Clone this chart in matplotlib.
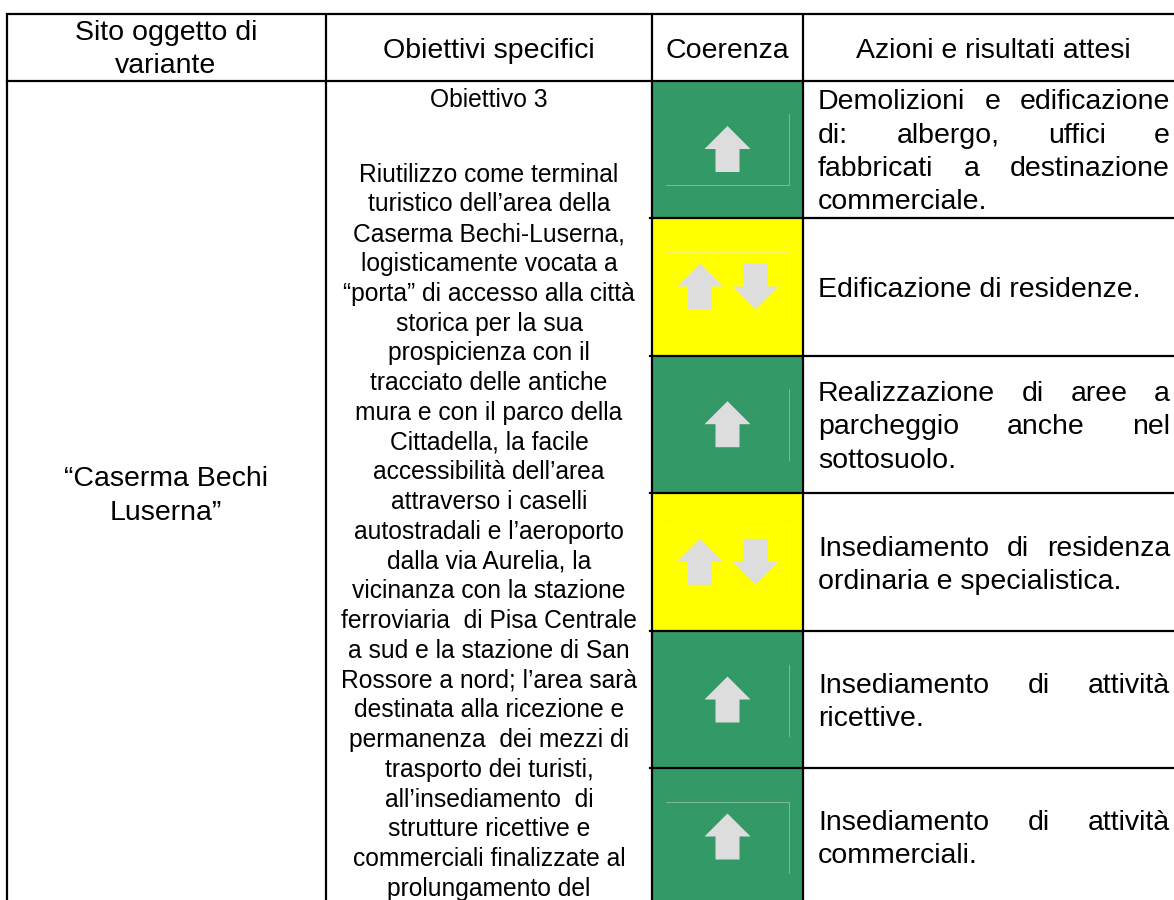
import matplotlib
matplotlib.use("Agg")
import matplotlib.pyplot as plt
from matplotlib.patches import Polygon, Rectangle

plt.rcParams["font.family"] = ["Liberation Sans", "DejaVu Sans"]

GREEN = "#339966"
YELLOW = "#ffff00"
ARROW = "#dddddd"
SIZE = 20.5
MID_SIZE = 17.7

# table grid, in image pixels (last row runs past the bottom of the page)
col_edges = [6.5, 326, 652, 803, 1174]
row_edges = [14, 80.5, 218, 355.7, 493.3, 631, 768, 905]

header_left = ["Sito oggetto di", "variante"]
header_rest = ["Obiettivi specifici", "Coerenza", "Azioni e risultati attesi"]
site_lines = ["“Caserma Bechi", "Luserna”"]

objective_title = "Obiettivo 3"
objective_lines = [
    "Riutilizzo come terminal", "turistico dell’area della", "Caserma Bechi-Luserna,",
    "logisticamente vocata a", "“porta” di accesso alla città", "storica per la sua",
    "prospicienza con il", "tracciato delle antiche", "mura e con il parco della",
    "Cittadella, la facile", "accessibilità dell’area", "attraverso i caselli",
    "autostradali e l’aeroporto", "dalla via Aurelia, la", "vicinanza con la stazione",
    "ferroviaria  di Pisa Centrale", "a sud e la stazione di San", "Rossore a nord; l’area sarà",
    "destinata alla ricezione e", "permanenza  dei mezzi di", "trasporto dei turisti,",
    "all’insediamento  di", "strutture ricettive e", "commerciali finalizzate al",
    "prolungamento del",
]

# one entry per row
coherence = ["up", "both", "up", "both", "up", "up"]
faint_top = [False, True, False, True, False, True]
faint_bottom = [True, False, False, False, False, False]
actions = [
    ["Demolizioni e edificazione", "di: albergo, uffici e", "fabbricati a destinazione", "commerciale."],
    ["Edificazione di residenze."],
    ["Realizzazione di aree a", "parcheggio anche nel", "sottosuolo."],
    ["Insediamento di residenza", "ordinaria e specialistica."],
    ["Insediamento di attività", "ricettive."],
    ["Insediamento di attività", "commerciali."],
]

fig = plt.figure(figsize=(11.74, 9), dpi=100)
ax = fig.add_axes([0, 0, 1, 1])
ax.set_xlim(0, 1174)
ax.set_ylim(900, 0)
ax.axis("off")


def up_arrow(cx, top):
    pts = [(cx, top), (cx + 23, top + 23), (cx + 12, top + 23), (cx + 12, top + 46),
           (cx - 12, top + 46), (cx - 12, top + 23), (cx - 23, top + 23)]
    ax.add_patch(Polygon(pts, fc=ARROW, ec="none", zorder=3))


def down_arrow(cx, top):
    pts = [(cx - 12, top), (cx + 12, top), (cx + 12, top + 23), (cx + 23, top + 23),
           (cx, top + 46), (cx - 23, top + 23), (cx - 12, top + 23)]
    ax.add_patch(Polygon(pts, fc=ARROW, ec="none", zorder=3))


def justified(line, x0, x1, y, size):
    words = line.split()
    texts = [ax.text(x0, y, w, fontsize=size, va="baseline", ha="left", color="black") for w in words]
    r = fig.canvas.get_renderer()
    widths = [t.get_window_extent(r).width for t in texts]
    gap = (x1 - x0 - sum(widths)) / (len(words) - 1)
    x = x0
    for t, w in zip(texts, widths):
        t.set_x(x)
        x += w + gap


# coherence cells
for i, kind in enumerate(coherence):
    top, bottom = row_edges[i + 1], row_edges[i + 2]
    ax.add_patch(Rectangle((col_edges[2], top), col_edges[3] - col_edges[2], bottom - top,
                           fc=GREEN if kind == "up" else YELLOW, ec="none", zorder=1))
    tip = top + 45.5
    if kind == "up":
        up_arrow(727.5, tip)
        faint = "#7fbb9c"
    else:
        up_arrow(700, tip)
        down_arrow(755.5, tip)
        faint = "#f4f47a"
    # leftover picture frame around the arrows
    ax.plot([789, 789], [tip - 12, tip + 59], color=faint, lw=0.7, zorder=2)
    if faint_top[i]:
        ax.plot([665.5, 789], [tip - 12, tip - 12], color=faint, lw=0.7, zorder=2)
    if faint_bottom[i]:
        ax.plot([665.5, 789], [tip + 59, tip + 59], color=faint, lw=0.7, zorder=2)

# grid
for x in col_edges[:-1]:
    ax.plot([x, x], [row_edges[0], row_edges[-1]], color="black", lw=1.6, zorder=4, solid_capstyle="butt")
ax.plot([col_edges[0], col_edges[-1]], [row_edges[0]] * 2, color="black", lw=1.6, zorder=4)
ax.plot([col_edges[0], col_edges[-1]], [row_edges[1]] * 2, color="black", lw=1.6, zorder=4)
for y in row_edges[2:-1]:
    ax.plot([650, col_edges[-1]], [y, y], color="black", lw=1.6, zorder=4)

# header
ax.text(166, 40, header_left[0], fontsize=SIZE, ha="center", va="baseline")
ax.text(166, 72.7, header_left[1], fontsize=SIZE, ha="center", va="baseline")
ax.text(489, 58, header_rest[0], fontsize=SIZE, ha="center", va="baseline")
ax.text(727.5, 58, header_rest[1], fontsize=SIZE, ha="center", va="baseline")
ax.text(993.5, 58, header_rest[2], fontsize=SIZE, ha="center", va="baseline")
ax.text(166, 486.5, site_lines[0], fontsize=SIZE, ha="center", va="baseline")
ax.text(166, 520, site_lines[1], fontsize=SIZE, ha="center", va="baseline")

# objective column
ax.text(489, 106.7, objective_title, fontsize=MID_SIZE, ha="center", va="baseline")
for i, line in enumerate(objective_lines):
    ax.text(489, 181.7 + i * 29.76, line, fontsize=MID_SIZE, ha="center", va="baseline")

# actions column
for i, lines in enumerate(actions):
    mid = (row_edges[i + 1] + row_edges[i + 2]) / 2 + 10
    y0 = mid - (len(lines) - 1) * 33.2 / 2
    for j, line in enumerate(lines):
        y = y0 + j * 33.2
        if j < len(lines) - 1:
            justified(line, 818, 1170, y, SIZE)
        else:
            ax.text(818, y, line, fontsize=SIZE, ha="left", va="baseline")

fig.savefig("out.png", dpi=100)
